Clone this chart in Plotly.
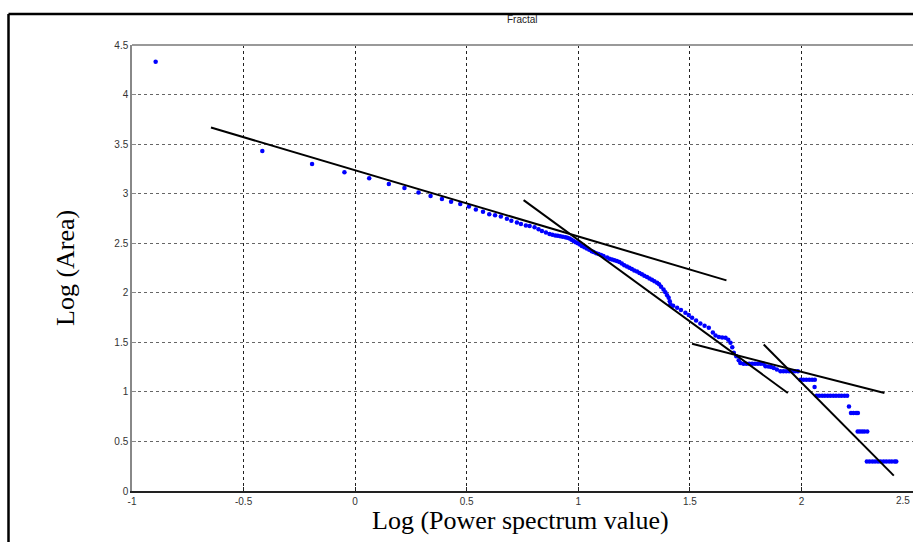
import plotly.graph_objects as go

# ---- data ----
x_pts = [-0.894, -0.416, -0.193, -0.048, 0.063, 0.151, 0.221, 0.284, 0.338, 0.389,
         0.430, 0.471, 0.510, 0.541, 0.573, 0.601, 0.627, 0.653, 0.680, 0.700,
         0.725, 0.743, 0.765, 0.782, 0.804, 0.822, 0.837, 0.855, 0.871, 0.884,
         0.897, 0.908, 0.919, 0.930, 0.942, 0.951, 0.961, 0.970, 0.979, 0.988,
         0.998, 1.007, 1.016, 1.027, 1.038, 1.049, 1.060, 1.069, 1.080, 1.091,
         1.102, 1.113, 1.129, 1.140, 1.151, 1.162, 1.173, 1.184, 1.195, 1.206,
         1.218, 1.229, 1.240, 1.251, 1.263, 1.274, 1.285, 1.296, 1.308, 1.319,
         1.330, 1.341, 1.353, 1.362, 1.371, 1.382, 1.390, 1.398, 1.405, 1.410,
         1.413, 1.425, 1.443, 1.460, 1.480, 1.495, 1.510, 1.528, 1.547, 1.566,
         1.585, 1.603, 1.615, 1.630, 1.645, 1.660, 1.672, 1.682, 1.690, 1.697,
         1.708, 1.719, 1.726, 1.740, 1.753, 1.766, 1.779, 1.792, 1.805, 1.818,
         1.830, 1.839, 1.852, 1.864, 1.876, 1.890, 1.906, 1.919, 1.932, 1.945,
         1.958, 1.971, 1.984, 1.996, 2.009, 2.022, 2.035, 2.048, 2.060, 2.059,
         2.068, 2.080, 2.093, 2.105, 2.118, 2.130, 2.143, 2.155, 2.168, 2.180,
         2.193, 2.205, 2.213, 2.222, 2.233, 2.245, 2.253, 2.252, 2.262, 2.272,
         2.282, 2.295, 2.293, 2.305, 2.318, 2.330, 2.343, 2.355, 2.368, 2.380,
         2.393, 2.405, 2.418, 2.425]
y_pts = [4.330, 3.430, 3.300, 3.215, 3.155, 3.097, 3.057, 3.013, 2.976, 2.945,
         2.918, 2.895, 2.871, 2.841, 2.817, 2.793, 2.782, 2.770, 2.746, 2.726,
         2.709, 2.695, 2.679, 2.675, 2.662, 2.642, 2.624, 2.608, 2.594, 2.586,
         2.578, 2.575, 2.571, 2.566, 2.561, 2.554, 2.547, 2.535, 2.523, 2.511,
         2.500, 2.487, 2.473, 2.460, 2.447, 2.433, 2.420, 2.412, 2.400, 2.390,
         2.380, 2.370, 2.355, 2.343, 2.335, 2.328, 2.321, 2.310, 2.295, 2.278,
         2.264, 2.253, 2.240, 2.226, 2.214, 2.200, 2.186, 2.173, 2.159, 2.145,
         2.131, 2.117, 2.102, 2.085, 2.062, 2.034, 2.005, 1.975, 1.950, 1.915,
         1.883, 1.870, 1.849, 1.825, 1.799, 1.775, 1.748, 1.720, 1.690, 1.668,
         1.647, 1.600, 1.570, 1.555, 1.548, 1.545, 1.525, 1.495, 1.450, 1.394,
         1.360, 1.320, 1.292, 1.285, 1.285, 1.285, 1.285, 1.285, 1.285, 1.285,
         1.285, 1.258, 1.255, 1.250, 1.242, 1.225, 1.208, 1.208, 1.208, 1.208,
         1.208, 1.208, 1.208, 1.123, 1.123, 1.123, 1.123, 1.123, 1.123, 1.050,
         0.962, 0.962, 0.962, 0.962, 0.962, 0.962, 0.962, 0.962, 0.962, 0.962,
         0.962, 0.962, 0.853, 0.786, 0.786, 0.786, 0.786, 0.600, 0.600, 0.600,
         0.600, 0.600, 0.297, 0.297, 0.297, 0.297, 0.297, 0.297, 0.297, 0.297,
         0.297, 0.297, 0.297, 0.297]

# fitted line segments: (x0, y0, x1, y1)
fit_lines = [
    (-0.646, 3.667, 1.664, 2.125),
    (0.755, 2.935, 1.939, 0.989),
    (1.510, 1.485, 2.372, 0.989),
    (1.831, 1.478, 2.414, 0.155),
]

x_ticks = [-1, -0.5, 0, 0.5, 1, 1.5, 2, 2.5]
x_ticklabels = ["-1", "-0.5", "0", "0.5", "1", "1.5", "2", "2.5"]
y_ticks = [0, 0.5, 1, 1.5, 2, 2.5, 3, 3.5, 4, 4.5]
y_ticklabels = ["0", "0.5", "1", "1.5", "2", "2.5", "3", "3.5", "4", "4.5"]

title_text = "Fractal"
x_title = "Log (Power spectrum value)"
y_title = "Log (Area)"

# ---- figure ----
W, H = 913, 542
ML, MR, MT, MB = 132, 0, 45, 51
PW, PH = W - ML - MR, H - MT - MB


def px2paper(px, py):
    return (px - ML) / PW, (H - MB - py) / PH


fig = go.Figure()

fig.add_trace(go.Scatter(
    x=x_pts, y=y_pts, mode="markers",
    marker=dict(symbol="circle", size=4.5, color="#0000ff", line=dict(width=0)),
    showlegend=False, hoverinfo="skip"))

for (x0, y0, x1, y1) in fit_lines:
    fig.add_trace(go.Scatter(
        x=[x0, x1], y=[y0, y1], mode="lines",
        line=dict(color="black", width=2),
        showlegend=False, hoverinfo="skip"))

axis_font = dict(family="Liberation Sans, Arial, sans-serif", size=10, color="#333333")

fig.update_xaxes(
    range=[-1, 2.5], tickmode="array", tickvals=x_ticks, ticktext=x_ticklabels,
    showgrid=True, gridcolor="#222222", griddash="dot", gridwidth=1,
    showline=True, linecolor="#222222", linewidth=1.5, mirror=False,
    ticks="inside", ticklen=4, tickcolor="#222222",
    tickfont=axis_font, zeroline=False, fixedrange=True)
fig.update_yaxes(
    range=[0, 4.5], tickmode="array", tickvals=y_ticks, ticktext=y_ticklabels,
    showgrid=True, gridcolor="#666666", griddash="dot", gridwidth=1,
    showline=True, linecolor="#888888", linewidth=1.5, mirror=False,
    ticks="inside", ticklen=4, tickcolor="#888888",
    tickfont=axis_font, zeroline=False, fixedrange=True)

shapes = []
# top axis border (gray)
shapes.append(dict(type="line", xref="paper", yref="paper", x0=0, x1=1, y0=1, y1=1,
                   line=dict(color="#999999", width=2)))
# outer document frame (black, top and left)
fx0, fy0 = px2paper(8.5, 14)
fx1, _ = px2paper(913, 14)
_, fy1 = px2paper(9, 542)
shapes.append(dict(type="line", xref="paper", yref="paper", x0=fx0, x1=fx1, y0=fy0, y1=fy0,
                   line=dict(color="black", width=2.5)))
shapes.append(dict(type="line", xref="paper", yref="paper", x0=fx0, x1=fx0, y0=fy0, y1=fy1,
                   line=dict(color="black", width=2.5)))

ylx, yly = px2paper(65, 268)
xlx, xly = px2paper(520, 520)
ttx, tty = px2paper(522, 20)

annotations = [
    dict(text=title_text, xref="paper", yref="paper", x=ttx, y=tty, showarrow=False,
         xanchor="center", yanchor="middle",
         font=dict(family="Liberation Sans, Arial, sans-serif", size=10, color="#222222")),
    dict(text=y_title, xref="paper", yref="paper", x=ylx, y=yly, showarrow=False,
         textangle=-90, xanchor="center", yanchor="middle",
         font=dict(family="Liberation Serif, Times New Roman, serif", size=26, color="black")),
    dict(text=x_title, xref="paper", yref="paper", x=xlx, y=xly, showarrow=False,
         xanchor="center", yanchor="middle",
         font=dict(family="Liberation Serif, Times New Roman, serif", size=26, color="black")),
    # last tick label, kept inside the page at the right edge
    dict(text=x_ticklabels[-1], xref="x", yref="paper", x=x_ticks[-1], y=0, yshift=-9,
         xshift=-1, showarrow=False, xanchor="right", yanchor="middle", font=axis_font),
]

fig.update_layout(
    width=W, height=H, autosize=False,
    margin=dict(l=ML, r=MR, t=MT, b=MB, pad=0),
    paper_bgcolor="white", plot_bgcolor="white",
    shapes=shapes, annotations=annotations,
    showlegend=False)

fig.write_html("out.html", config={"displayModeBar": False})
